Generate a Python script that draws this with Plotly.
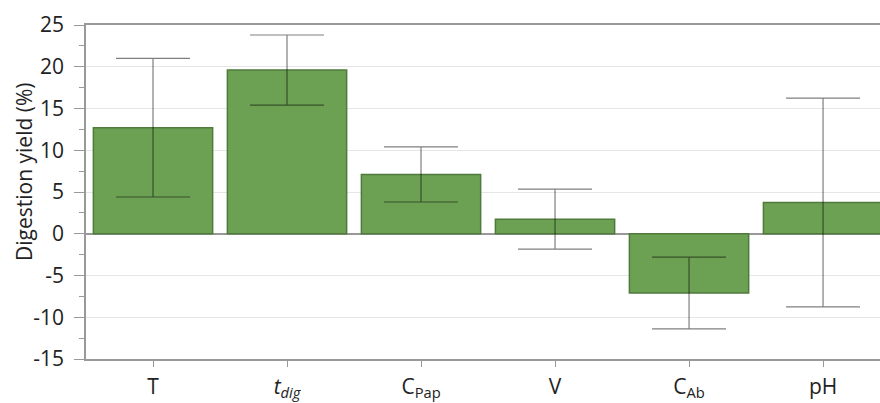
import plotly.graph_objects as go

categories = ["T", "<i>t<sub>dig</sub></i>", "C<sub>Pap</sub>", "V", "C<sub>Ab</sub>", "pH"]
values = [12.7, 19.6, 7.1, 1.75, -7.1, 3.75]
errors = [8.3, 4.2, 3.3, 3.6, 4.3, 12.5]
y_ticks = [-15, -10, -5, 0, 5, 10, 15, 20, 25]
y_tick_text = ["-15", "-10", "-5", "0", "5", "10", "15", "20", "25"]
y_title = "Digestion yield (%)"

fig = go.Figure(go.Bar(
    x=list(range(len(categories))),
    y=values,
    width=0.89,
    marker=dict(color="#6ca153", line=dict(color="#4f7a3c", width=1.5)),
    error_y=dict(type="data", array=errors, visible=True, color="rgba(0,0,0,0.5)", thickness=1.2, width=37),
))

fig.update_layout(
    width=880, height=403,
    margin=dict(l=86, r=0, t=25, b=44),
    paper_bgcolor="white", plot_bgcolor="white",
    font=dict(family="Open Sans, Segoe UI, sans-serif", size=21, color="#222"),
    showlegend=False,
    xaxis=dict(
        range=[-0.5, 5.425], automargin=False,
        tickmode="array", tickvals=list(range(len(categories))), ticktext=categories,
        showline=True, linecolor="#999", linewidth=1.5, mirror=True,
        ticks="outside", ticklen=6, tickcolor="#999",
        ticklabelstandoff=2,
        showgrid=False, zeroline=False,
        tickfont=dict(size=21),
    ),
    yaxis=dict(
        range=[-15, 25], automargin=False,
        tickmode="array", tickvals=y_ticks, ticktext=y_tick_text,
        showline=True, linecolor="#999", linewidth=1.5,
        ticks="outside", ticklen=10, tickcolor="#999",
        ticklabelstandoff=6,
        minor=dict(dtick=2.5, ticks="outside", ticklen=5, tickcolor="#999", showgrid=False),
        showgrid=True, gridcolor="#e6e6e6", gridwidth=1,
        zeroline=True, zerolinecolor="#999", zerolinewidth=1.5,
        tickfont=dict(size=21),
    ),
    annotations=[dict(
        text=y_title, textangle=-90, showarrow=False,
        xref="paper", yref="paper", x=0, y=0.56,
        xanchor="center", yanchor="middle", xshift=-62,
        font=dict(size=21),
    )],
)

fig.write_html(
    "out.html",
    config={"displayModeBar": False},
    post_script="document.body.style.margin='0px';document.body.style.overflow='hidden';",
)
